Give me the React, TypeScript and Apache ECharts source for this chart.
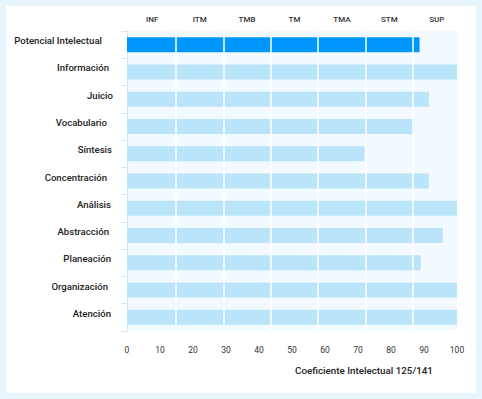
import React, { useEffect, useRef } from "react";
import * as echarts from "echarts";

const categories = [
  "Potencial Intelectual",
  "Información",
  "Juicio",
  "Vocabulario",
  "Síntesis",
  "Concentración",
  "Análisis",
  "Abstracción",
  "Planeación",
  "Organización",
  "Atención",
];
const values = [88.65, 100, 91.5, 87, 72, 91.5, 100, 95.7, 89, 100, 100];
const tiers = ["INF", "ITM", "TMB", "TM", "TMA", "STM", "SUP"];
const axisTitle = "Coeficiente Intelectual 125/141";
// per-label right-side nudge (px) to mimic the reference's ragged alignment
const labelNudge = [11, 4, 0, 6, 1, 6, 2, 4, 2, 5, 2];

export default function App() {
  const ref = useRef<HTMLDivElement>(null);
  useEffect(() => {
    document.body.style.margin = "0";
    const chart = echarts.init(ref.current!, null, { renderer: "svg" });
    const font = "Roboto, 'Noto Sans', sans-serif";
    const rich: Record<string, any> = {};
    labelNudge.forEach((p, i) => {
      rich["n" + i] = {
        padding: [0, p, 8, 0],
        fontSize: 9.6,
        fontWeight: 500,
        color: "#222",
        fontFamily: font,
      };
    });
    chart.setOption({
      animation: false,
      backgroundColor: "#e8f5fd",
      textStyle: { fontFamily: font },
      graphic: [
        {
          type: "rect",
          z: -10,
          shape: { x: 6, y: 6, width: 470, height: 387 },
          style: { fill: "#ffffff" },
        },
      ],
      title: {
        text: axisTitle,
        left: 290,
        top: 360,
        textStyle: { fontSize: 9.8, fontWeight: 500, color: "#222", fontFamily: font },
      },
      grid: [
        {
          left: 127,
          top: 31,
          width: 330,
          height: 300,
          show: true,
          backgroundColor: "#f3faff",
          borderWidth: 0,
        },
        {
          left: 128.5,
          top: 31,
          width: 332,
          height: 300,
          show: false,
        },
      ],
      xAxis: [
        {
          type: "value",
          gridIndex: 0,
          position: "bottom",
          min: 0,
          max: 100,
          interval: 10,
          axisLine: { show: false },
          axisTick: { show: false },
          splitLine: { show: false },
          axisLabel: { fontSize: 8.5, color: "#333", margin: 14, fontFamily: font },
        },
        {
          type: "category",
          gridIndex: 1,
          position: "top",
          data: tiers,
          boundaryGap: true,
          z: 10,
          axisLine: { show: false },
          axisTick: { show: false },
          splitLine: {
            show: true,
            interval: (i: number) => i > 0,
            lineStyle: { color: "#ffffff", width: 1.5 },
          },
          axisLabel: { fontSize: 8, fontWeight: 500, color: "#333", margin: 8, fontFamily: font },
        },
      ],
      yAxis: [
        {
          type: "category",
          gridIndex: 0,
          inverse: true,
          data: categories,
          offset: 1,
          axisLine: { show: true, lineStyle: { color: "#cde7f7", width: 1 } },
          axisTick: { show: true, length: 6, lineStyle: { color: "#cde7f7" } },
          axisLabel: {
            margin: 13,
            formatter: (v: string, i: number) => `{n${i}|${v}}`,
            rich,
          },
        },
        {
          type: "category",
          gridIndex: 1,
          inverse: true,
          data: categories,
          show: false,
        },
      ],
      series: [
        {
          type: "bar",
          xAxisIndex: 0,
          yAxisIndex: 0,
          barWidth: 15,
          data: values.map((v, i) => ({
            value: v,
            itemStyle: { color: i === 0 ? "#0096ff" : "#b9e4f9" },
          })),
        },
      ],
    });
    return () => chart.dispose();
  }, []);
  return <div ref={ref} style={{ position: "absolute", left: 0, top: 0, width: 482, height: 399 }} />;
}
